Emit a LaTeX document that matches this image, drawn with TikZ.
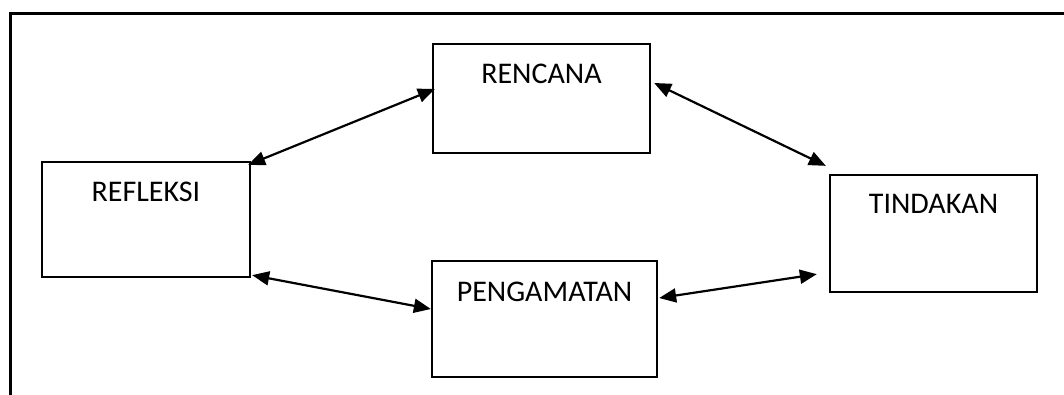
\documentclass[tikz,border=0pt]{standalone}
\usepackage{fontspec}
\setmainfont{Carlito}
\usetikzlibrary{arrows.meta}
\begin{document}
\begin{tikzpicture}[x=1pt,y=-1pt,
  stagebox/.style={draw=black,line width=2.3pt,rectangle,inner sep=0pt},
  lbl/.style={anchor=base,inner sep=0pt,font=\fontsize{30}{36}\selectfont},
  link/.style={line width=2.2pt,{Triangle[length=17pt,width=14pt]}-{Triangle[length=17pt,width=14pt]}},
  frameline/.style={line width=2.6pt}]
\useasboundingbox (0,0) rectangle (1064,394);
% outer frame (top and left sides visible)
\coordinate (ftr) at (1070,13.7);
\coordinate (ftl) at (10.5,13.7);
\coordinate (fbl) at (10.5,400);
\draw[frameline] (ftr) -- (ftl) -- (fbl);
% boxes
\node[stagebox,minimum width=217pt,minimum height=109pt] (ren) at (541.5,98.5) {};
\node[stagebox,minimum width=208pt,minimum height=115pt] (ref) at (146,219.5) {};
\node[stagebox,minimum width=225pt,minimum height=116pt] (peng) at (544.5,319) {};
\node[stagebox,minimum width=207pt,minimum height=117pt] (tin) at (933.5,233.5) {};
% labels
\node[lbl] (renT) at (541.5,83) {RENCANA};
\node[lbl] (refT) at (146,201) {REFLEKSI};
\node[lbl] (pengT) at (544.5,301) {PENGAMATAN};
\node[lbl] (tinT) at (933.5,213.3) {TINDAKAN};
% connectors
\draw[link] ([xshift=-3pt,yshift=-4pt]ref.north east) -- ([xshift=3pt,yshift=9.5pt]ren.west);
\draw[link] ([xshift=3pt,yshift=15.5pt]ren.east) -- ([xshift=-3pt,yshift=8pt]tin.north west);
\draw[link] ([xshift=1pt,yshift=3pt]ref.south east) -- ([xshift=0pt,yshift=10pt]peng.west);
\draw[link] ([xshift=1pt,yshift=21pt]peng.east) -- ([xshift=-12pt,yshift=19pt]tin.south west);
\end{tikzpicture}
\end{document}
